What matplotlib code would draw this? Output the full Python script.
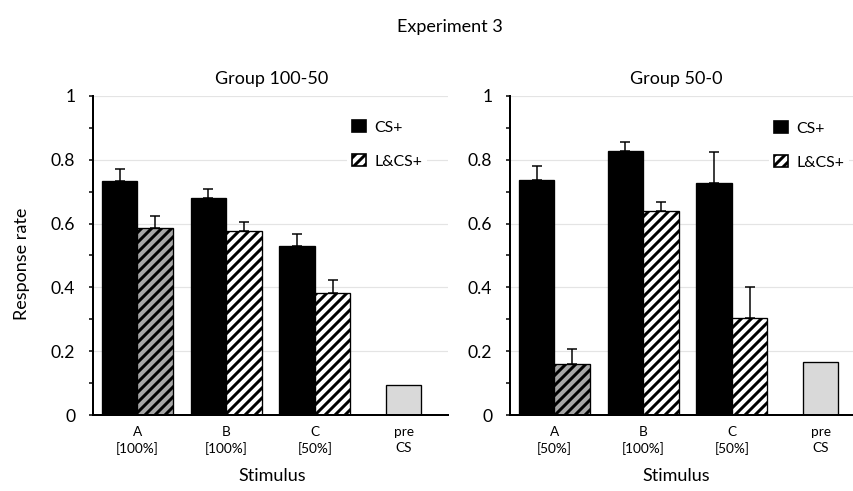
import numpy as np
import matplotlib
matplotlib.use("Agg")
import matplotlib.pyplot as plt
import matplotlib.patches as mpatches
from matplotlib.ticker import MultipleLocator

plt.rcParams['font.family'] = ['Lato', 'DejaVu Sans']
plt.rcParams['hatch.linewidth'] = 1.8

# %% Data
cats_left = ['A\n[100%]', 'B\n[100%]', 'C\n[50%]', 'pre\nCS']
cats_right = ['A\n[50%]', 'B\n[100%]', 'C\n[50%]', 'pre\nCS']

cs_left = [0.733, 0.681, 0.530]
cs_left_err = [0.037, 0.027, 0.038]
lcs_left = [0.586, 0.576, 0.383]
lcs_left_err = [0.039, 0.028, 0.040]
pre_left = 0.095

cs_right = [0.737, 0.828, 0.728]
cs_right_err = [0.043, 0.028, 0.096]
lcs_right = [0.160, 0.639, 0.304]
lcs_right_err = [0.047, 0.030, 0.097]
pre_right = 0.167

W, H, DPI = 853, 491, 120
fig = plt.figure(figsize=(W / DPI, H / DPI), dpi=DPI)


def px_axes(x0, x1, y_top, y_bot):
    """Axes from pixel coords (origin top-left)."""
    return fig.add_axes([x0 / W, 1 - y_bot / H, (x1 - x0) / W, (y_bot - y_top) / H])


def draw_panel(ax, cats, cs, cs_err, lcs, lcs_err, pre):
    x = np.arange(3)
    bw = 0.4
    ax.bar(x - bw / 2, cs, bw, color='black', edgecolor='black', linewidth=0.8, zorder=3)
    fills = ['#a6a6a6', 'white', 'white']
    ax.bar(x + bw / 2, lcs, bw, color=fills, edgecolor='black', hatch='////',
           linewidth=0.8, zorder=3)
    ax.bar([3], [pre], bw, color='#d9d9d9', edgecolor='black', linewidth=0.8, zorder=3)
    ax.errorbar(x - bw / 2, cs, yerr=[np.zeros(3), cs_err], fmt='none', ecolor='black',
                elinewidth=0.9, capsize=3.2, capthick=0.9, zorder=4)
    ax.errorbar(x + bw / 2, lcs, yerr=[np.zeros(3), lcs_err], fmt='none', ecolor='black',
                elinewidth=0.9, capsize=3.2, capthick=0.9, zorder=4)

    ax.set_xlim(-0.5, 3.5)
    ax.set_ylim(0, 1.0)
    ax.set_xticks(range(4))
    ax.set_xticklabels(cats, fontsize=8.2, linespacing=1.4)
    ax.tick_params(axis='x', length=0, pad=6.5)
    ax.yaxis.set_major_locator(MultipleLocator(0.2))
    ax.yaxis.set_minor_locator(MultipleLocator(0.1))
    ax.set_yticks([0, 0.2, 0.4, 0.6, 0.8, 1.0])
    ax.set_yticklabels(['0', '0.2', '0.4', '0.6', '0.8', '1'])
    ax.tick_params(axis='y', which='both', direction='out', length=2.6, width=0.9,
                   labelsize=10.5, pad=8)
    ax.grid(axis='y', color='#e4e4e4', linewidth=0.7, zorder=0)
    ax.set_axisbelow(True)
    for s in ['top', 'right']:
        ax.spines[s].set_visible(False)
    ax.spines['left'].set_linewidth(1.2)
    ax.spines['bottom'].set_linewidth(1.2)
    ax.spines['bottom'].set_zorder(5)

    handles = [mpatches.Patch(facecolor='black', edgecolor='black', label='CS+'),
               mpatches.Patch(facecolor='white', edgecolor='black', hatch='////',
                              label='L&CS+')]
    leg = ax.legend(handles=handles, loc='upper left', fontsize=9.5,
                    handlelength=0.9, handleheight=0.85, handletextpad=0.55,
                    labelspacing=1.22, borderpad=0.3, borderaxespad=0,
                    frameon=True, fancybox=False)
    leg.get_frame().set_edgecolor('none')
    leg.get_frame().set_facecolor('white')
    leg.get_frame().set_alpha(1)
    return leg


ax1 = px_axes(93, 448, 96, 415)
leg1 = draw_panel(ax1, cats_left, cs_left, cs_left_err, lcs_left, lcs_left_err, pre_left)
leg1.set_bbox_to_anchor((347 / W, 1 - 115 / H), transform=fig.transFigure)

ax2 = px_axes(510, 865, 96, 415)
leg2 = draw_panel(ax2, cats_right, cs_right, cs_right_err, lcs_right, lcs_right_err, pre_right)
leg2.set_bbox_to_anchor((769 / W, 1 - 116 / H), transform=fig.transFigure)

fs = 10.8
fig.text(450 / W, 1 - 27 / H, 'Experiment 3', ha='center', va='center', fontsize=fs)
fig.text(272 / W, 1 - 79 / H, 'Group 100-50', ha='center', va='center', fontsize=fs)
fig.text(676 / W, 1 - 79 / H, 'Group 50-0', ha='center', va='center', fontsize=fs)
fig.text(272 / W, 1 - 476 / H, 'Stimulus', ha='center', va='center', fontsize=fs)
fig.text(676 / W, 1 - 476 / H, 'Stimulus', ha='center', va='center', fontsize=fs)
fig.text(22 / W, 1 - 264 / H, 'Response rate', ha='center', va='center',
         rotation=90, fontsize=fs)

fig.savefig('out.png', dpi=DPI)
